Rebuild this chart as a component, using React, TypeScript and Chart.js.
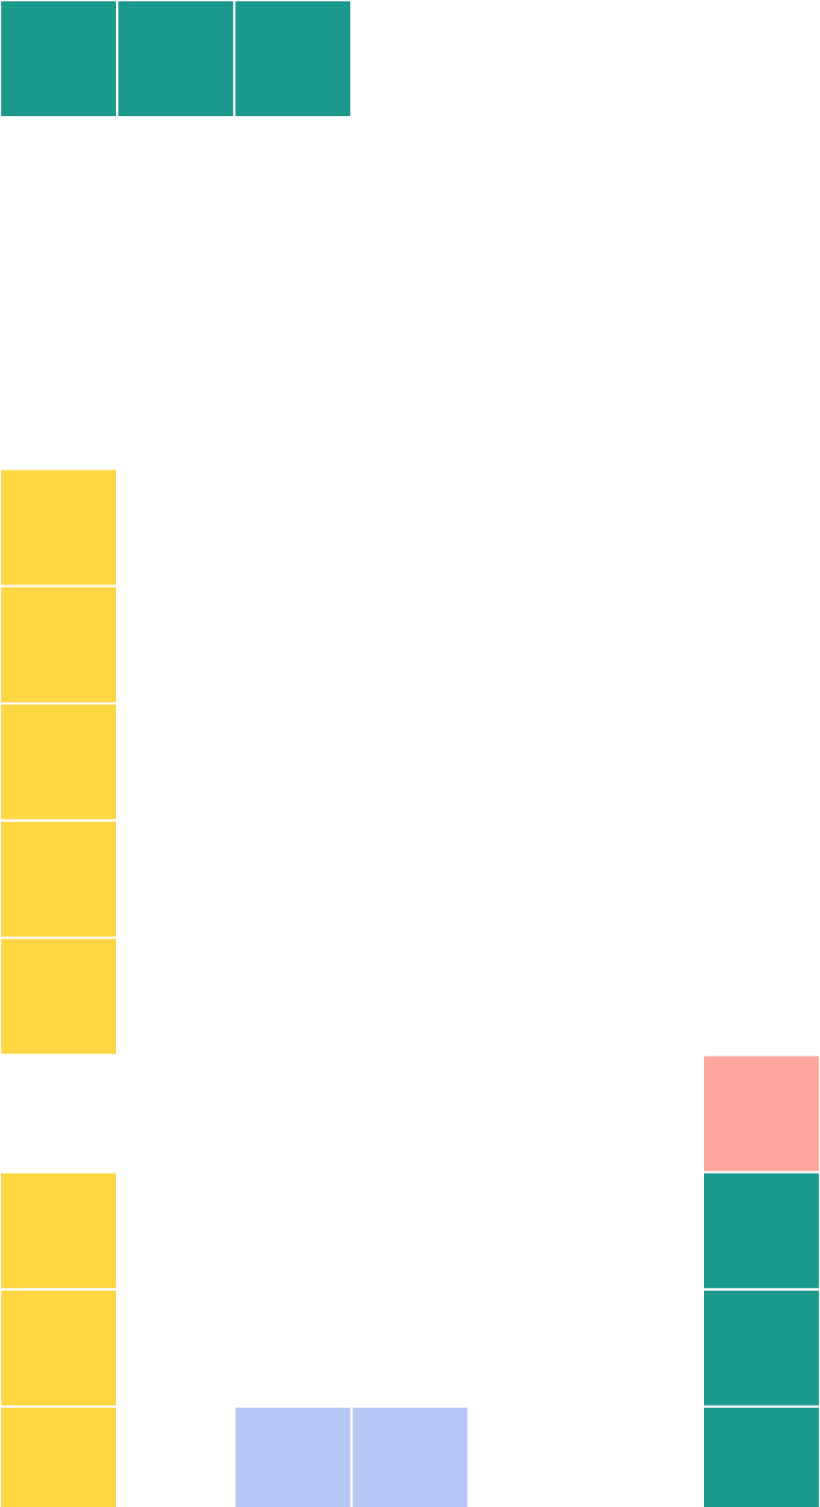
import React, { useEffect, useRef } from "react";
import { Chart, registerables } from "chart.js";

Chart.register(...registerables);

// Grid: 7 columns, 13 rows (row 0 at the top)
const columns = ["C1", "C2", "C3", "C4", "C5", "C6", "C7"];
const rowCount = 13;

// Cells of each group: [column index, row index]
const tealCells: [number, number][] = [
  [0, 0], [1, 0], [2, 0],
  [6, 10], [6, 11], [6, 12],
];
const yellowCells: [number, number][] = [
  [0, 4], [0, 5], [0, 6], [0, 7], [0, 8],
  [0, 10], [0, 11], [0, 12],
];
const pinkCells: [number, number][] = [[6, 9]];
const lavenderCells: [number, number][] = [[2, 12], [3, 12]];

const groups = [
  { name: "Teal", cells: tealCells, color: "#1B998B" },
  { name: "Yellow", cells: yellowCells, color: "#FFD743" },
  { name: "Pink", cells: pinkCells, color: "#FFA69E" },
  { name: "Lavender", cells: lavenderCells, color: "#B8C6F3" },
];

export default function App() {
  const ref = useRef<HTMLCanvasElement | null>(null);

  useEffect(() => {
    if (!ref.current) return;
    const chart = new Chart(ref.current, {
      type: "bar",
      data: {
        labels: columns,
        datasets: groups.map((g) => ({
          label: g.name,
          data: g.cells.map(([c, r]) => ({ x: columns[c], y: [r, r + 1] })),
          backgroundColor: g.color,
          borderColor: "#ffffff",
          borderWidth: 1.5,
          borderSkipped: false,
          barPercentage: 1,
          categoryPercentage: 1,
          grouped: false,
        })) as any,
      },
      options: {
        animation: false,
        responsive: true,
        maintainAspectRatio: false,
        layout: { padding: 0 },
        plugins: { legend: { display: false }, tooltip: { enabled: false } },
        scales: {
          x: { type: "category", display: false, offset: true },
          y: { type: "linear", display: false, reverse: true, min: 0, max: rowCount },
        },
      },
    });
    return () => chart.destroy();
  }, []);

  return (
    <div
      style={{
        position: "fixed",
        left: 0,
        top: 0,
        width: 820,
        height: 1507,
        overflow: "hidden",
        background: "#ffffff",
      }}
    >
      <div style={{ position: "relative", width: 820, height: (820 * rowCount) / columns.length }}>
        <canvas ref={ref} />
      </div>
    </div>
  );
}
